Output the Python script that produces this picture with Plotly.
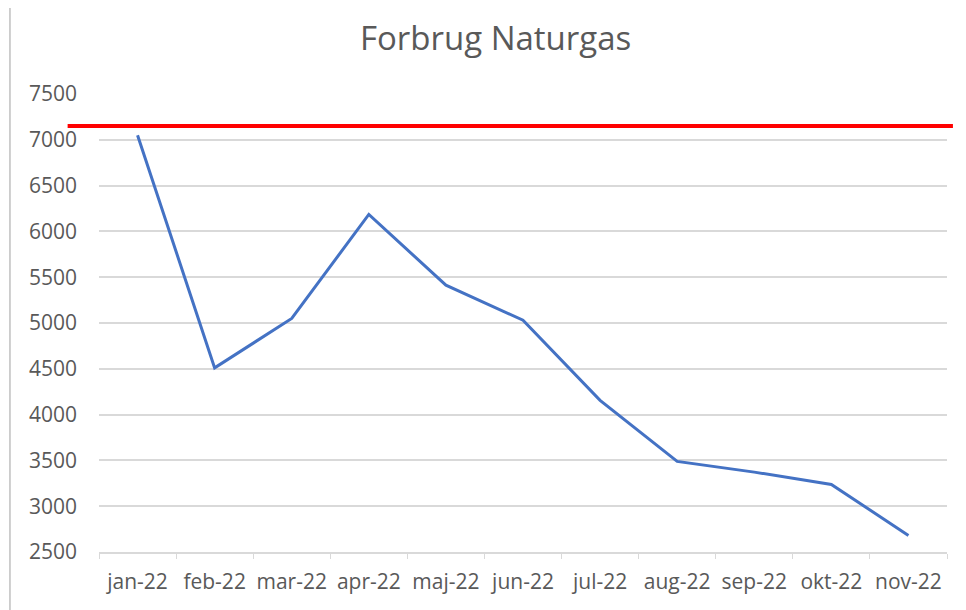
import plotly.graph_objects as go

months = ["jan-22", "feb-22", "mar-22", "apr-22", "maj-22", "jun-22",
          "jul-22", "aug-22", "sep-22", "okt-22", "nov-22"]
forbrug = [7050, 4510, 5050, 6185, 5413, 5030, 4156, 3489, 3372, 3238, 2680]
target = 7150
y_ticks = [2500, 3000, 3500, 4000, 4500, 5000, 5500, 6000, 6500, 7000, 7500]

fig = go.Figure()
fig.add_trace(go.Scatter(
    x=months, y=forbrug, mode="lines",
    line=dict(color="#4472C4", width=3),
    showlegend=False,
))

# Red reference line
fig.add_shape(type="line", xref="paper", yref="y",
              x0=-0.037, x1=1.007, y0=target, y1=target,
              line=dict(color="#FF0000", width=4))
# left border of the image
fig.add_shape(type="line", xref="paper", yref="paper",
              x0=-0.105, x1=-0.105, y0=-0.15, y1=1.25,
              line=dict(color="#BFBFBF", width=1.5))

fig.update_layout(
    width=958, height=602,
    margin=dict(l=91, r=19, t=86, b=58, autoexpand=False),
    paper_bgcolor="white", plot_bgcolor="white",
    title=dict(text="Forbrug Naturgas", x=0.509, xanchor="center", y=0.95, yanchor="middle",
               xref="container", yref="container",
               font=dict(family="Open Sans", size=33, color="#595959")),
    font=dict(family="Open Sans", color="#595959", size=21),
    xaxis=dict(
        type="category", tickson="boundaries", ticks="outside", ticklen=5,
        tickcolor="#D9D9D9", showline=True, linecolor="#D9D9D9", linewidth=1.5,
        showgrid=False, tickfont=dict(size=21, color="#595959"), tickangle=0,
        ticklabelstandoff=10, automargin=False, range=[-0.5, 10.5],
    ),
    yaxis=dict(
        range=[2500, 7500], tickvals=y_ticks, showgrid=True, gridcolor="#D9D9D9",
        gridwidth=1.5, zeroline=False, ticks="", tickfont=dict(size=21, color="#595959"),
        ticklabelstandoff=21, automargin=False,
    ),
)

fig.write_html("out.html")
